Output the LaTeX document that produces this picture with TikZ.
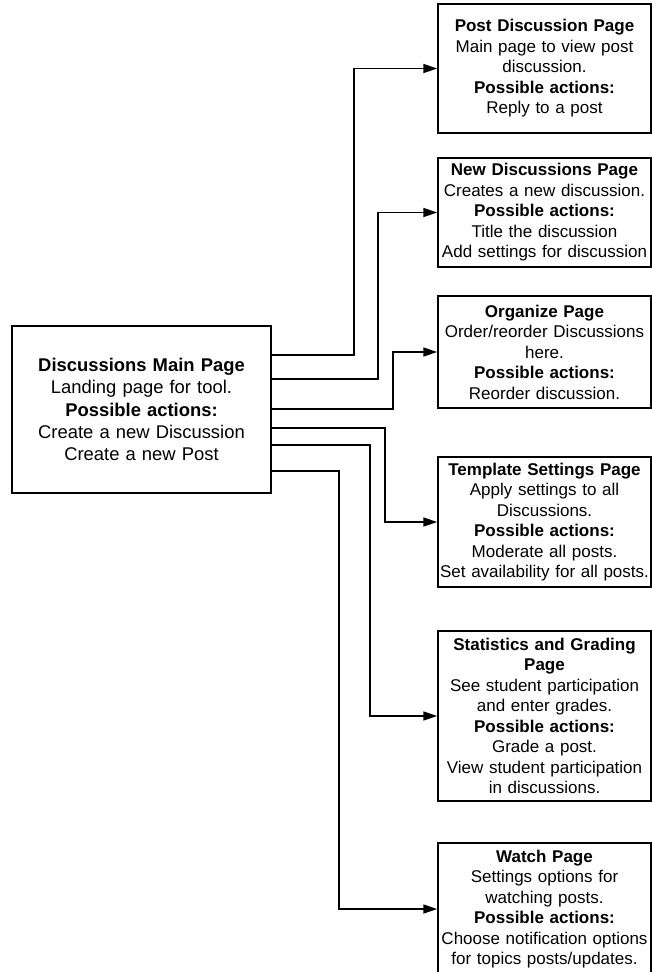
\documentclass[tikz,border=0pt]{standalone}
\usepackage{fontspec}
\setmainfont{Liberation Sans}
\usetikzlibrary{arrows.meta}
\begin{document}
\begin{tikzpicture}[x=1pt,y=1pt,
  rbox/.style={draw, line width=1.5pt, minimum width=213pt, text width=211pt,
    minimum height=#1, inner sep=0pt, align=center,
    font=\fontsize{17}{20.5}\selectfont},
  mbox/.style={draw, line width=1.5pt, minimum width=259pt, text width=255pt,
    minimum height=167pt, inner sep=0pt, align=center,
    font=\fontsize{18.4}{22.3}\selectfont},
  conn/.style={line width=1.5pt, -{Triangle[length=14pt,width=9pt]}}]
\useasboundingbox (0,0) rectangle (652,-972);
\clip (0,0) rectangle (652,-972);

\node[mbox] (main) at (141.5,-409.5)
  {\textbf{Discussions Main Page}\\Landing page for tool.\\\textbf{Possible actions:}\\Create a new Discussion\\Create a new Post};

\node[rbox=129pt] (post) at (544.5,-68.5)
  {\textbf{Post Discussion Page}\\Main page to view post\\discussion.\\\textbf{Possible actions:}\\Reply to a post};
\node[rbox=109pt] (new) at (544.5,-212.5)
  {\textbf{New Discussions Page}\\Creates a new discussion.\\\textbf{Possible actions:}\\Title the discussion\\Add settings for discussion};
\node[rbox=112pt] (org) at (544.5,-352)
  {\textbf{Organize Page}\\Order/reorder Discussions\\here.\\\textbf{Possible actions:}\\Reorder discussion.};
\node[rbox=130pt] (templ) at (544.5,-522)
  {\textbf{Template Settings Page}\\Apply settings to all\\Discussions.\\\textbf{Possible actions:}\\Moderate all posts.\\Set availability for all posts.};
\node[rbox=170pt] (stats) at (544.5,-716)
  {\textbf{Statistics and Grading}\\\textbf{Page}\\See student participation\\and enter grades.\\\textbf{Possible actions:}\\Grade a post.\\View student participation\\in discussions.};
\node[rbox=132pt] (watch) at (544.5,-909)
  {\textbf{Watch Page}\\Settings options for\\watching posts.\\\textbf{Possible actions:}\\Choose notification options\\for topics posts/updates.};

\draw[conn] (main.east |- 0,-355) -- (354,-355) |- (post.west);
\draw[conn] (main.east |- 0,-379) -- (378,-379) |- (new.west);
\draw[conn] (main.east |- 0,-409) -- (393,-409) |- (org.west);
\draw[conn] (main.east |- 0,-428) -- (385,-428) |- (templ.west);
\draw[conn] (main.east |- 0,-445) -- (370,-445) |- (stats.west);
\draw[conn] (main.east |- 0,-471) -- (339,-471) |- (watch.west);
\end{tikzpicture}
\end{document}
